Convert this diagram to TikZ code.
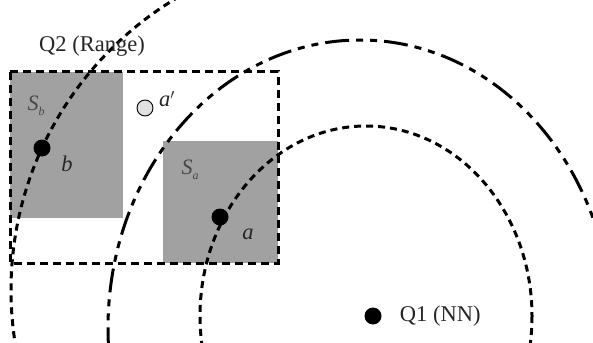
\documentclass[tikz,border=0pt]{standalone}
\usepackage{fontspec}
\setmainfont{Liberation Serif}
\usepackage{xcolor}
\usetikzlibrary{positioning}

\begin{document}
\begin{tikzpicture}[
  x=1pt, y=-1pt,
  region/.style={fill=black!37, draw=none},
  window/.style={draw, line width=3pt, dash pattern=on 8pt off 5pt},
  nnring/.style={draw, line width=3pt, dash pattern=on 7pt off 5pt},
  outring/.style={draw, line width=3pt, dash pattern=on 24pt off 7pt on 7pt off 7pt on 7pt off 7pt},
  rangering/.style={draw, line width=3pt, dash pattern=on 7pt off 5pt},
  obj/.style={circle, fill=black, inner sep=0pt, minimum size=17pt},
  ghost/.style={circle, draw, fill=black!12, line width=0.9pt, inner sep=0pt, minimum size=16pt},
  lbl/.style={font=\fontsize{22.5}{26}\selectfont, text=black!85, inner sep=0pt},
  sub/.style={font=\fontsize{22}{25}\selectfont, text=black!72, inner sep=0pt}
]
\useasboundingbox (0,0) rectangle (593,342);
\clip (0,0) rectangle (593,342);

% Shaded regions
\fill[region] (10,72) rectangle (123,218);
\fill[region] (163,141) rectangle (278,263);

% Query rings
\draw[outring] (360,328) ellipse [x radius=252, y radius=288];
\draw[nnring] (366,316) ellipse [x radius=166, y radius=190];
\begin{scope}
  \clip (0,0) rectangle (300,342);
  \draw[rangering] (351,290) circle [radius=340];
\end{scope}

% Search window
\draw[window] (10,72) rectangle (278,263);

% Objects
\node[obj] (b) at (42,148) {};
\node[obj] (a) at (220,217) {};
\node[ghost] (aprime) at (145,108) {};
\node[obj] (qone) at (373,316) {};

% Labels
\node[lbl] (qtwolbl) at (92,46) {Q2 (Range)};
\node[lbl, right=18pt of qone] (qonelbl) {Q1 (NN)};
\node[sub] (sblbl) at (36,106) {\itshape S\raisebox{-0.45ex}{\fontsize{12}{13}\selectfont b}};
\node[sub] (salbl) at (190,170) {\itshape S\raisebox{-0.45ex}{\fontsize{12}{13}\selectfont a}};
\node[lbl] (blbl) at (67,164) {\itshape b};
\node[lbl] (albl) at (248,234) {\itshape a};
\node[lbl] (aplbl) at (167,99) {\itshape a$'$};
\end{tikzpicture}
\end{document}
